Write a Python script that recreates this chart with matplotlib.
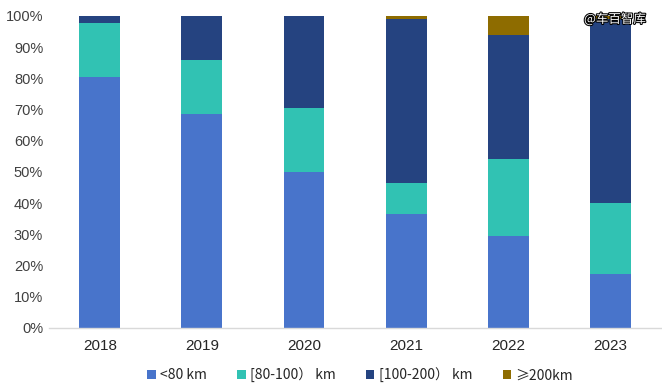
import matplotlib
matplotlib.use("Agg")
import matplotlib.pyplot as plt
import matplotlib.patheffects as pe
import numpy as np

plt.rcParams['font.family'] = ['Noto Sans CJK SC', 'DejaVu Sans']

years = ["2018", "2019", "2020", "2021", "2022", "2023"]
series_names = ["<80 km", "[80-100） km", "[100-200） km", "≥200km"]
lt80 = [80.4, 68.6, 50.0, 36.5, 29.5, 17.3]
r80_100 = [17.4, 17.3, 20.5, 10.0, 24.7, 22.8]
r100_200 = [2.2, 14.1, 29.5, 52.4, 39.7, 58.9]
ge200 = [0.0, 0.0, 0.0, 1.1, 6.1, 1.0]
colors = ["#4874CB", "#31C2B3", "#254380", "#8E6C00"]

fig = plt.figure(figsize=(6.62, 3.89), dpi=100)
ax = fig.add_axes([0.0736, 0.157, 0.9254, 0.802])

x = np.arange(len(years))
bottom = np.zeros(len(years))
for vals, name, c in zip([lt80, r80_100, r100_200, ge200], series_names, colors):
    ax.bar(x, vals, width=0.4, bottom=bottom, color=c, label=name, zorder=2)
    bottom += np.array(vals)

narrow = ['Liberation Sans Narrow', 'Liberation Sans', 'DejaVu Sans']
ax.set_xlim(-0.5, len(years) - 0.5)
ax.set_ylim(0, 100)
ax.set_yticks(np.arange(0, 101, 10))
ax.set_yticklabels([f"{v}%" for v in range(0, 101, 10)], fontsize=10.5,
                   color="#404040", family=narrow)
ax.set_xticks(x)
ax.set_xticklabels(years, fontsize=11, color="#262626", family=narrow)
ax.tick_params(axis='both', length=0)
ax.tick_params(axis='x', pad=8)
ax.tick_params(axis='y', pad=4)
for s in ["top", "right", "left"]:
    ax.spines[s].set_visible(False)
ax.spines["bottom"].set_color("#D9D9D9")
ax.spines["bottom"].set_linewidth(1.0)

leg = fig.legend(loc="center", bbox_to_anchor=(0.544, 0.036), ncol=4, frameon=False,
                 fontsize=10, handlelength=0.6, handleheight=0.6, handletextpad=0.3,
                 columnspacing=2.2)
for t in leg.get_texts():
    t.set_color("#262626")

fig.text(0.929, 0.951, "@车百智库", fontsize=9, color="white", ha="center", va="center",
         path_effects=[pe.withStroke(linewidth=1.5, foreground="black")])

fig.savefig("out.png", dpi=100)
